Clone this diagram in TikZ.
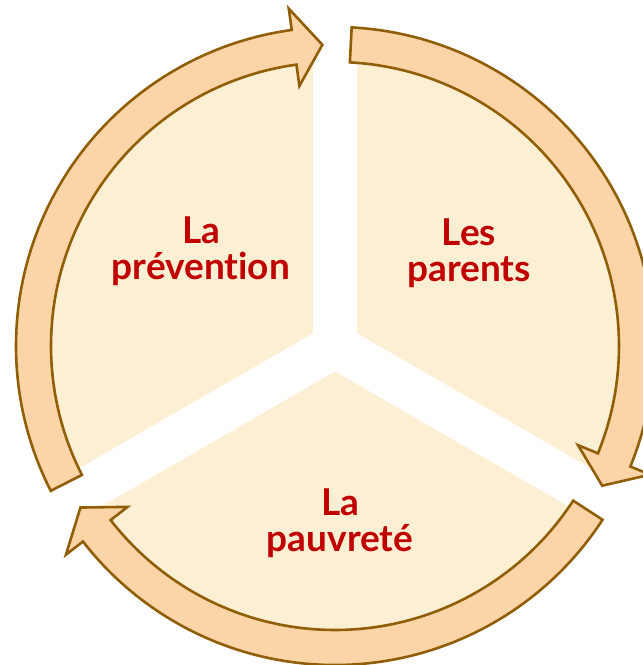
\documentclass[tikz,border=0pt]{standalone}
\usepackage{fontspec}
\setmainfont{Lato}[Ligatures={NoCommon}]
\definecolor{cream}{RGB}{253,239,212}
\definecolor{peach}{RGB}{251,213,168}
\definecolor{brownline}{RGB}{145,94,8}
\definecolor{darkred}{RGB}{192,0,0}
\tikzset{
  cyclearrow/.style={fill=peach, draw=brownline, line width=2.6pt, line join=miter},
  label/.style={text=darkred, font=\bfseries\fontsize{37}{36}\selectfont, align=center, anchor=base, inner sep=0pt},
  gapline/.style={white, line width=44pt}
}
\begin{document}
\begin{tikzpicture}[x=1pt,y=1pt]
\useasboundingbox (0,0) rectangle (643,665);
\clip (0,0) rectangle (643,665);
\coordinate (c) at (335,319);
\fill[cream] (c) circle (300);
\foreach \a in {90,210,330} \draw[gapline] (c) -- ++(\a:345);
\foreach \k in {0,1,2}{
  \begin{scope}[shift={(335,319)}, rotate={-120*\k}]
    \filldraw[cyclearrow] (207:319) arc[start angle=207, end angle=97.8, radius=319]
      -- (97.8:340.5) -- (92.4:301.5) -- (97.8:262.5) -- (97.8:284)
      arc[start angle=97.8, end angle=207, radius=284] -- cycle;
  \end{scope}
}
\node[label] (prev) at (201,385) {La\\prévention};
\node[label] (par) at (469,383) {Les\\parents};
\node[label] (pauv) at (340,113) {La\\pauvreté};
\end{tikzpicture}
\end{document}
